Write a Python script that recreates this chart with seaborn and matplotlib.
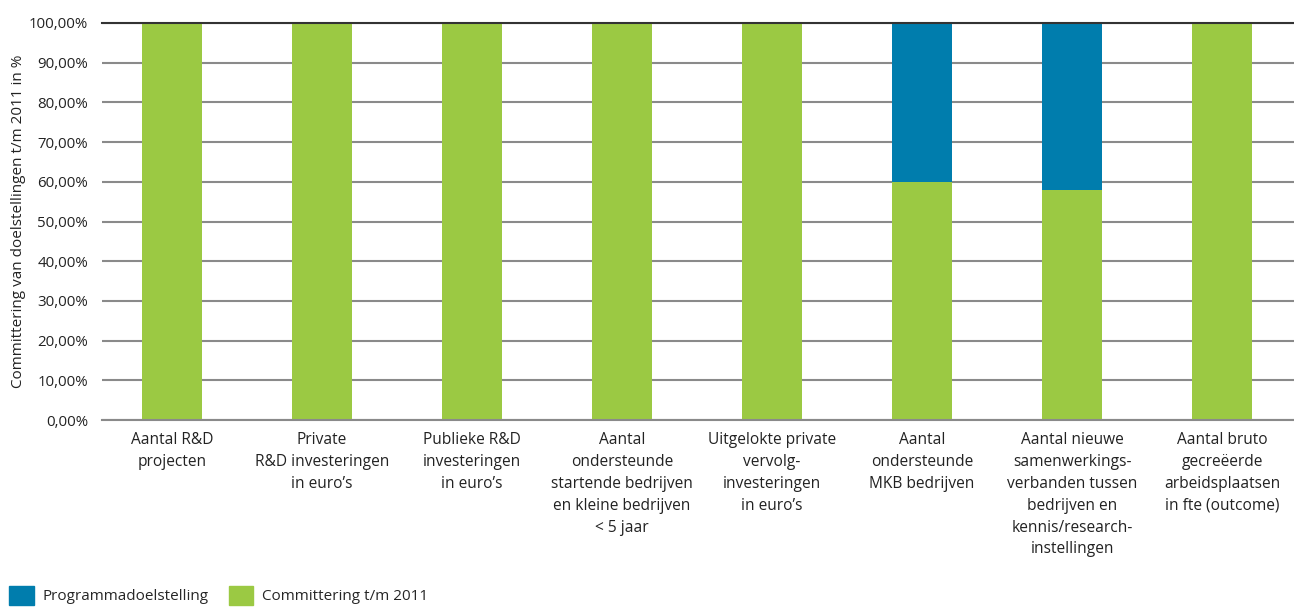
import matplotlib
matplotlib.use('Agg')
import matplotlib.pyplot as plt
import seaborn as sns
import pandas as pd
from matplotlib.patches import Patch

# Data
categories = [
    'Aantal R&D\nprojecten',
    'Private\nR&D investeringen\nin euro\u2019s',
    'Publieke R&D\ninvesteringen\nin euro\u2019s',
    'Aantal\nondersteunde\nstartende bedrijven\nen kleine bedrijven\n< 5 jaar',
    'Uitgelokte private\nvervolg-\ninvesteringen\nin euro\u2019s',
    'Aantal\nondersteunde\nMKB bedrijven',
    'Aantal nieuwe\nsamenwerkings-\nverbanden tussen\nbedrijven en\nkennis/research-\ninstellingen',
    'Aantal bruto\ngecre\u00eberde\narbeidsplaatsen\nin fte (outcome)',
]
doel = [100, 100, 100, 100, 100, 100, 100, 100]
committering = [100, 100, 100, 100, 100, 60, 58, 100]
yticks = [0, 10, 20, 30, 40, 50, 60, 70, 80, 90, 100]

blue = '#007dad'
green = '#9bc943'
txt = '#222222'

sns.set_style('white')
plt.rcParams['font.family'] = ['Open Sans', 'DejaVu Sans']

df = pd.DataFrame({'cat': categories, 'doel': doel, 'comm': committering})

fig = plt.figure(figsize=(12.94, 6.10), dpi=100)
ax = fig.add_axes([102 / 1294, 1 - 420 / 610, 1 - 102 / 1294, (420 - 23) / 610])

# target (full) bar first, then committed part on top
sns.barplot(data=df, x='cat', y='doel', color=blue, width=0.4, saturation=1, linewidth=0, ax=ax)
sns.barplot(data=df, x='cat', y='comm', color=green, width=0.4, saturation=1, linewidth=0, ax=ax)

ax.set_xlim(-0.467, 7.48)
ax.set_ylim(0, 100)
ax.set_yticks(yticks)
ax.set_yticklabels([f'{v},00%' for v in yticks], fontsize=10.8, color=txt)
ax.tick_params(axis='y', length=0, pad=10)
ax.tick_params(axis='x', length=0, pad=9, labelsize=11.2, colors=txt)
for lab in ax.get_xticklabels():
    lab.set_linespacing(1.48)
ax.set_xlabel('')
ax.set_ylabel('Committering van doelstellingen t/m 2011 in %', fontsize=11, color=txt)
ax.yaxis.set_label_coords(-0.064, 0.5)

ax.set_axisbelow(True)
ax.yaxis.grid(True, color='#8a8a8a', linewidth=1.5)
for s in ['left', 'right']:
    ax.spines[s].set_visible(False)
ax.spines['top'].set_color('#333333')
ax.spines['top'].set_linewidth(1.5)
ax.spines['bottom'].set_color('#8a8a8a')
ax.spines['bottom'].set_linewidth(1.5)

handles = [Patch(color=blue, label='Programmadoelstelling'),
           Patch(color=green, label='Committering t/m 2011')]
fig.legend(handles=handles, loc='upper left', bbox_to_anchor=(0.007, 0.04), ncol=2,
           frameon=False, fontsize=11, handlelength=1.6, handleheight=1.6,
           handletextpad=0.6, columnspacing=1.3, borderpad=0, borderaxespad=0)

fig.savefig('out.png', dpi=100)
